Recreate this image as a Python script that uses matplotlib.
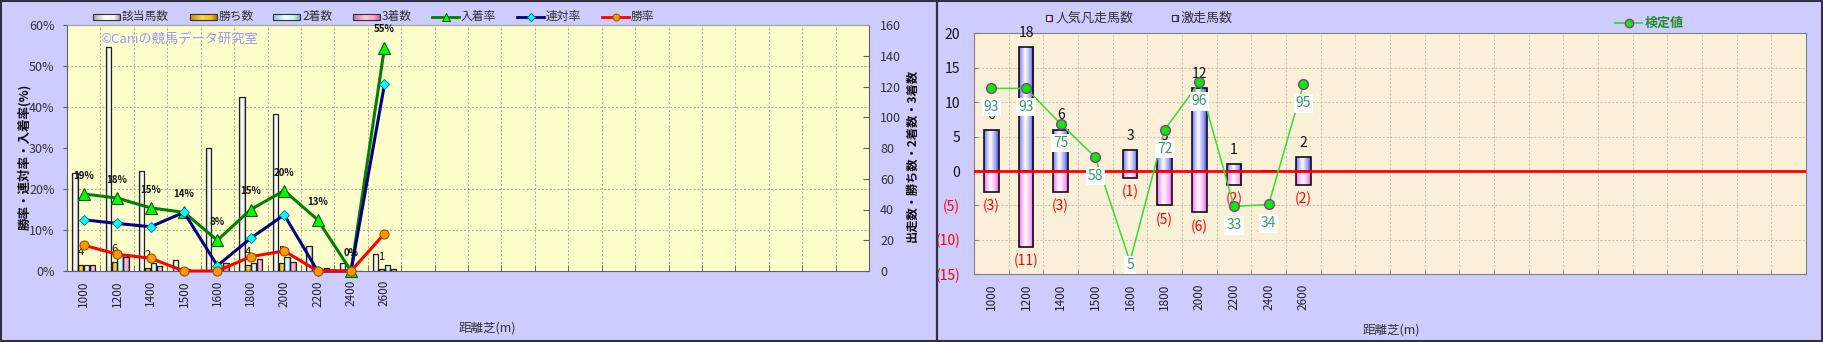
import numpy as np
import matplotlib
matplotlib.use("Agg")
import matplotlib.pyplot as plt
from matplotlib.colors import LinearSegmentedColormap
from matplotlib.patches import Rectangle

plt.rcParams['font.family'] = ['Noto Sans CJK JP', 'DejaVu Sans']

# ---------------- data ----------------
distances = ['1000', '1200', '1400', '1500', '1600', '1800', '2000', '2200', '2400', '2600']
runners = [64, 146, 65, 7, 80, 113, 102, 16, 5, 11]        # 該当馬数
wins = [4, 6, 2, 0, 0, 4, 5, 0, 0, 1]                      # 勝ち数
seconds = [4, 11, 5, 1, 1, 5, 9, 0, 0, 4]                  # 2着数
thirds = [4, 9, 3, 0, 5, 8, 6, 2, 0, 1]                    # 3着数
place_rate = [18.8, 17.8, 15.4, 14.3, 7.5, 15.0, 19.6, 12.5, 0.0, 54.5]   # 入着率
rentai_rate = [12.5, 11.6, 10.8, 14.3, 1.3, 8.0, 13.7, 0.0, 0.0, 45.5]    # 連対率
win_rate = [6.3, 4.1, 3.1, 0.0, 0.0, 3.5, 4.9, 0.0, 0.0, 9.1]            # 勝率

gekiso = [6, 18, 6, 0, 3, 3, 12, 1, 0, 2]        # 激走馬数
bonso = [3, 11, 3, 0, 1, 5, 6, 2, 0, 2]          # 人気凡走馬数
kentei = [93, 93, 75, 58, 5, 72, 96, 33, 34, 95]  # 検定値

N_SLOTS = 24

# ---------------- figure ----------------
W, H = 1823, 342
fig = plt.figure(figsize=(W / 100, H / 100), dpi=100, facecolor='#CCCCFF')


def px_axes(x0, y0, x1, y1):
    return fig.add_axes([x0 / W, 1 - y1 / H, (x1 - x0) / W, (y1 - y0) / H])


def make_cmap(stops):
    return LinearSegmentedColormap.from_list('g', stops)


def grad_fill(ax, rect, stops, zorder):
    x0, y0 = rect.get_xy()
    w, h = rect.get_width(), rect.get_height()
    arr = np.linspace(0, 1, 64).reshape(1, -1)
    im = ax.imshow(arr, cmap=make_cmap(stops), extent=(x0, x0 + w, min(y0, y0 + h), max(y0, y0 + h)),
                   aspect='auto', interpolation='bilinear', zorder=zorder)
    im.set_clip_path(rect)
    return im


x = np.arange(len(distances))
slot_min = np.arange(N_SLOTS - 1) + 0.5

# ---------------- left chart ----------------
axL = px_axes(67, 25, 869, 271)
axL.set_facecolor('#FFFFCC')

bar_series = [
    (runners, [(0, '#a8a8a8'), (0.45, '#ffffff'), (0.8, '#f4f4f4'), (1, '#9c9c9c')]),
    (wins, [(0, '#c08c00'), (0.45, '#ffd84a'), (0.8, '#f0c000'), (1, '#a87800')]),
    (seconds, [(0, '#8cc8c8'), (0.45, '#eaffff'), (0.8, '#c8f4f4'), (1, '#78b0b0')]),
    (thirds, [(0, '#d070a0'), (0.45, '#ffc8e0'), (0.8, '#f8a0c8'), (1, '#c06090')]),
]
offsets = (np.arange(4) - 1.5) * 0.175
bw = 0.16
for k, (vals, stops) in enumerate(bar_series):
    bars = axL.bar(x + offsets[k], vals, width=bw, facecolor='none', edgecolor='#202020',
                   linewidth=0.9, zorder=3)
    for b in bars:
        if b.get_height() > 0:
            grad_fill(axL, b, stops, 2.5)

axL.set_xlim(-0.5, N_SLOTS - 0.5)
axL.set_ylim(0, 160)

# win count labels above gold bars
for i, w in enumerate(wins):
    if w > 0:
        axL.annotate(str(w), (x[i] + offsets[1], w), xytext=(0, 9), textcoords='offset points',
                     ha='center', va='center', fontsize=8, color='#111111', zorder=4)

axT = axL.twinx()
# counts axis on the right, percentage axis on the left
axL.yaxis.tick_right()
axL.yaxis.set_label_position('right')
axT.yaxis.tick_left()
axT.yaxis.set_label_position('left')

axL.set_yticks(range(0, 161, 20))
axL.set_yticks([160 * k / 6 for k in range(1, 6)], minor=True)
axL.tick_params(axis='y', which='major', direction='in', length=4, pad=8, labelsize=9,
                labelcolor='#333333', colors='#606060', left=False, labelleft=False,
                right=True, labelright=True)
axL.tick_params(axis='y', which='minor', length=0, left=False, right=False)
axL.set_xticks(x)
axL.set_xticklabels(distances, rotation=90, fontsize=8.5, color='#222222')
axL.set_xticks(slot_min, minor=True)
axL.tick_params(axis='x', which='major', length=0, pad=6.5)
axL.tick_params(axis='x', which='minor', direction='in', length=4, colors='#606060')
axL.grid(True, which='minor', axis='both', color='#a8a8a8', linestyle=(0, (2, 2)), linewidth=0.7)
axL.set_axisbelow(True)
for side, col in [('left', '#606060'), ('bottom', '#606060'), ('right', '#606060'), ('top', '#a0a0a0')]:
    axL.spines[side].set_color(col)

axT.set_ylim(0, 60)
axT.set_yticks(range(0, 61, 10))
axT.set_yticklabels([f'{v}%' for v in range(0, 61, 10)])
axT.tick_params(axis='y', direction='out', length=3, pad=6, labelsize=9, labelcolor='#333333',
                colors='#606060', left=True, labelleft=True, right=False, labelright=False)
for s in axT.spines.values():
    s.set_visible(False)

axT.plot(x, place_rate, color='#008000', lw=2.2, marker='^', ms=8, mfc='#00ff00', mec='#006000',
         mew=0.8, zorder=5, clip_on=False)
axT.plot(x, rentai_rate, color='#000080', lw=2.2, marker='D', ms=5, mfc='#00ffff', mec='#0070a0',
         mew=0.6, zorder=5, clip_on=False)
axT.plot(x, win_rate, color='#ff0000', lw=2.2, marker='o', ms=6.5, mfc='#ff9900', mec='#a05000',
         mew=0.8, zorder=5, clip_on=False)
for i, v in enumerate(place_rate):
    axT.annotate(f'{int(v + 0.5)}%', (x[i], v), xytext=(0, 13), textcoords='offset points',
                 ha='center', va='center', fontsize=7, fontweight='bold', color='#111111', zorder=6)

# ---------------- right chart ----------------
axR = px_axes(974, 33.3, 1806, 274.3)
axR.set_facecolor('#FAEFD7')

pos_stops = [(0, '#7878ff'), (0.42, '#ffffff'), (0.75, '#a8a8ff'), (1, '#4848e8')]
neg_stops = [(0, '#ff70ff'), (0.42, '#ffffff'), (0.75, '#ffb8ff'), (1, '#e060e0')]
neg_vals = [-v for v in bonso]
bw2 = 0.42
pbars = axR.bar(x, gekiso, width=bw2, facecolor='none', edgecolor='#101010', linewidth=1.2, zorder=3)
nbars = axR.bar(x, neg_vals, width=bw2, facecolor='none', edgecolor='#101010', linewidth=1.2, zorder=3)
for b in list(pbars) + list(nbars):
    if b.get_height() != 0:
        grad_fill(axR, b, pos_stops if b.get_height() > 0 else neg_stops, 2.5)

axR.set_xlim(-0.5, N_SLOTS - 0.5)
axR.set_ylim(-15, 20)

for i in range(len(x)):
    if gekiso[i] > 0:
        axR.annotate(str(gekiso[i]), (x[i], gekiso[i]), xytext=(0, 10.4), textcoords='offset points',
                     ha='center', va='center', fontsize=10, color='#111111', zorder=4.5)
    if bonso[i] > 0:
        axR.annotate(f'({bonso[i]})', (x[i], -bonso[i]), xytext=(0, -10.4), textcoords='offset points',
                     ha='center', va='center', fontsize=10, color='#ff0000', zorder=4.5)

axK = axR.twinx()
axR.yaxis.tick_left()
yt = list(range(-15, 21, 5))
axR.set_yticks(yt)
axR.set_yticklabels([f'({-v})' if v < 0 else str(v) for v in yt])
axR.tick_params(axis='y', direction='in', length=3, pad=10, labelsize=10, colors='#808080')
for lab, v in zip(axR.get_yticklabels(), yt):
    lab.set_color('#ff0000' if v < 0 else '#111111')
axR.set_xticks(x)
axR.set_xticklabels(distances, rotation=90, fontsize=8.5, color='#222222')
axR.set_xticks(slot_min, minor=True)
axR.tick_params(axis='x', which='major', length=0, pad=6.5)
axR.tick_params(axis='x', which='minor', direction='in', length=3, colors='#808080')
axR.grid(True, which='minor', axis='x', color='#c4bcac', linestyle=(0, (2, 2)), linewidth=0.7)
axR.grid(True, which='major', axis='y', color='#c4bcac', linestyle=(0, (2, 2)), linewidth=0.7)
axR.set_axisbelow(True)
for s in axR.spines.values():
    s.set_color('#808080')
axR.axhline(0, color='#ff0000', lw=2.0, zorder=4)

axK.set_ylim(-1.5, 121)
axK.axis('off')
axK.plot(x, kentei, color='#33dd33', lw=1.1, marker='o', ms=7, mfc='#00ee00', mec='#993399',
         mew=1.0, zorder=5, clip_on=False)
bottom_disp = H - 274.3
for i, v in enumerate(kentei):
    dx, dy = axK.transData.transform((x[i], v))
    ly = max(dy - 19, bottom_disp + 9)
    lx, lv = axK.transData.inverted().transform((dx, ly))
    axK.text(x[i], lv, str(v), ha='center', va='center', fontsize=10, color='#3a9a6a', zorder=6,
             bbox=dict(boxstyle='square,pad=0.15', fc='white', ec='none'))

# ---------------- overlay (legends, labels, frame) ----------------
ov = fig.add_axes([0, 0, 1, 1])
ov.set_xlim(0, W)
ov.set_ylim(H, 0)
ov.axis('off')


def legend_patch(x0, x1, y0, y1, stops):
    r = Rectangle((x0, y0), x1 - x0, y1 - y0, facecolor='none', edgecolor='#303030', lw=0.8, zorder=3)
    ov.add_patch(r)
    grad_fill(ov, r, stops, 2.5)


ly = 16.7
leg_items = [(93, '該当馬数', 0), (190, '勝ち数', 1), (273, '2着数', 2), (353, '3着数', 3)]
for x0, name, k in leg_items:
    legend_patch(x0, x0 + 27, ly - 3, ly + 3, bar_series[k][1])
    ov.text(x0 + 29, ly, name, ha='left', va='center', fontsize=8.5, color='#333333')

line_items = [(432, '入着率', '#008000', '^', 5.5, '#00ff00', '#006000'),
              (517, '連対率', '#000080', 'D', 3.8, '#00ffff', '#0070a0'),
              (602, '勝率', '#ff0000', 'o', 5.0, '#ff9900', '#a05000')]
for x0, name, col, mk, ms, mfc, mec in line_items:
    ov.plot([x0, x0 + 27], [ly, ly], color=col, lw=2.0)
    ov.plot([x0 + 13.5], [ly], marker=mk, ms=ms, mfc=mfc, mec=mec, mew=0.7, color=col)
    ov.text(x0 + 29, ly, name, ha='left', va='center', fontsize=8.5, color='#333333')

ry = 18.3
legend_patch(1046, 1052, ry - 3, ry + 3, neg_stops)
ov.text(1056, ry, '人気凡走馬数', ha='left', va='center', fontsize=9.4, color='#333333')
legend_patch(1172, 1178, ry - 3, ry + 3, pos_stops)
ov.text(1180, ry, '激走馬数', ha='left', va='center', fontsize=9.4, color='#333333')
ov.plot([1615, 1642], [23, 23], color='#33dd33', lw=1.3)
ov.plot([1628.7], [23], marker='o', ms=6, mfc='#00ee00', mec='#993399', mew=1.0)
ov.text(1645, 23, '検定値', ha='left', va='center', fontsize=9.4, color='#2a8a2a', fontweight='bold')

ov.text(25, 157, '勝率・連対率・入着率(%)', rotation=90, ha='center', va='center', fontsize=9,
        fontweight='bold', color='#111111')
ov.text(912, 155, '出走数・勝ち数・2着数・3着数', rotation=90, ha='center', va='center', fontsize=8.8,
        fontweight='bold', color='#111111')
ov.text(487, 328, '距離芝(m)', ha='center', va='center', fontsize=9, color='#333333')
ov.text(1391, 330, '距離芝(m)', ha='center', va='center', fontsize=9, color='#333333')
ov.text(100, 39, '©Caniの競馬データ研究室', ha='left', va='center', fontsize=9.5, color='#9999ff')

ov.plot([0.8, W - 0.8, W - 0.8, 0.8, 0.8], [0.8, 0.8, H - 0.8, H - 0.8, 0.8], color='#303040', lw=1.5)
ov.plot([936.7, 936.7], [0, H], color='#303040', lw=1.6)
ov.set_xlim(0, W)
ov.set_ylim(H, 0)

fig.savefig('out.png', dpi=100, facecolor=fig.get_facecolor())
